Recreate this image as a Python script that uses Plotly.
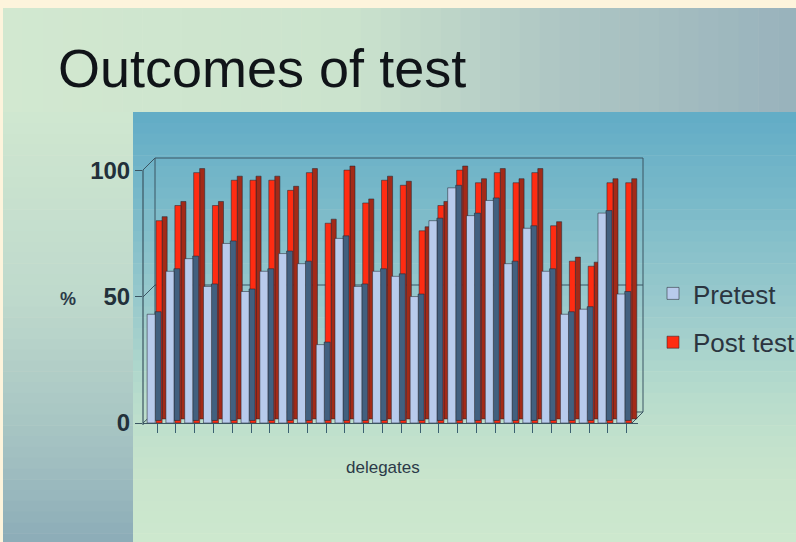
import numpy as np
import plotly.graph_objects as go

# ---------------- data ----------------
delegates = list(range(1, 27))
pretest = [43, 60, 65, 54, 71, 52, 60, 67, 63, 31, 73, 54, 60,
           58, 50, 80, 93, 82, 88, 63, 77, 60, 43, 45, 83, 51]
posttest = [80, 86, 99, 86, 96, 96, 96, 92, 99, 79, 100, 87, 96,
            94, 76, 86, 100, 95, 99, 95, 99, 78, 64, 62, 95, 95]
y_ticks = [0, 50, 100]

# ---------------- layout geometry ----------------
W, H = 796, 542
ML, MR, MT, MB = 143, 158, 160, 119
PW, PH = W - ML - MR, H - MT - MB


def px(x):
    return (x - ML) / PW


def py(y):
    return (H - MB - y) / PH


def hexrgb(h):
    h = h.lstrip('#')
    return np.array([int(h[i:i + 2], 16) for i in (0, 2, 4)], dtype=float)


def interp_color(stops, t):
    pos = [s[0] for s in stops]
    cols = np.array([hexrgb(s[1]) for s in stops])
    c = [np.interp(t, pos, cols[:, k]) for k in range(3)]
    return 'rgb(%d,%d,%d)' % tuple(int(round(v)) for v in c)


shapes = []


def grad_rect(x0, x1, y0, y1, stops, horizontal, n=40):
    for i in range(n):
        if horizontal:
            a = x0 + (x1 - x0) * i / n
            b = x0 + (x1 - x0) * (i + 1) / n + 0.6
            col = interp_color(stops, (a + b) / 2)
            shapes.append(dict(type='rect', xref='paper', yref='paper', layer='below',
                               x0=px(a), x1=px(b), y0=py(y1), y1=py(y0),
                               fillcolor=col, line=dict(width=0)))
        else:
            a = y0 + (y1 - y0) * i / n
            b = y0 + (y1 - y0) * (i + 1) / n + 0.6
            col = interp_color(stops, (a + b) / 2)
            shapes.append(dict(type='rect', xref='paper', yref='paper', layer='below',
                               x0=px(x0), x1=px(x1), y0=py(b), y1=py(a),
                               fillcolor=col, line=dict(width=0)))


# slide background: top band (horizontal gradient)
grad_rect(3, W + 2, 8, 112, [(3, '#d2e8d0'), (350, '#cbe3cd'), (550, '#afc7c4'), (796, '#98b2bc')], True)
# left strip (vertical gradient)
grad_rect(3, 133, 112, H + 2, [(112, '#d0e7d0'), (300, '#bed9cc'), (450, '#a3c1c1'), (542, '#8cacb8')], False)
# chart panel (vertical gradient)
grad_rect(133, W + 2, 112, H + 2, [(112, '#62acc6'), (200, '#79b9c9'), (300, '#98c9cc'),
                                    (400, '#b8dccc'), (470, '#c8e4cc'), (542, '#cde8ce')], False)

frame_col = '#3b5562'


def line(x0, y0, x1, y1, layer='below', w=1):
    shapes.append(dict(type='line', xref='paper', yref='paper', layer=layer,
                       x0=px(x0), y0=py(y0), x1=px(x1), y1=py(y1),
                       line=dict(color=frame_col, width=w)))


# 3D box frame (back wall, floor)
line(155, 158, 643, 158)
line(643, 158, 643, 412)
line(155, 158, 155, 412)
line(155, 412, 643, 412)
line(155, 285, 643, 285)
line(143, 297, 155, 285)
line(143, 170, 155, 158)
line(143, 423, 155, 412)
line(632, 423, 643, 412)
line(143, 170, 143, 425, layer='above', w=1.2)

# ---------------- traces ----------------
edge = dict(color='rgba(35,35,45,0.75)', width=0.7)
fig = go.Figure()
fig.add_trace(go.Bar(x=delegates, y=posttest, base=1.6, offset=0.266, width=0.27,
                     marker=dict(color='#a32a18', line=edge), showlegend=False,
                     hoverinfo='skip'))
fig.add_trace(go.Bar(x=delegates, y=posttest, name='Post test', offset=-0.053, width=0.32,
                     marker=dict(color='#ff2c12', line=edge), legendrank=2,
                     legendgroup='post'))
fig.add_trace(go.Bar(x=delegates, y=pretest, base=1.0, offset=-0.106, width=0.32,
                     marker=dict(color='#42607f', line=edge), showlegend=False,
                     hoverinfo='skip'))
fig.add_trace(go.Bar(x=delegates, y=pretest, name='Pretest', offset=-0.53, width=0.43,
                     marker=dict(color='#b8cbec', line=edge), legendrank=1,
                     legendgroup='pre'))

font_main = 'Liberation Sans, Arial, sans-serif'
fig.update_layout(
    width=W, height=H,
    margin=dict(l=ML, r=MR, t=MT, b=MB, autoexpand=False),
    barmode='overlay',
    paper_bgcolor='#fdf4dc',
    plot_bgcolor='rgba(0,0,0,0)',
    shapes=shapes,
    showlegend=True,
    legend=dict(x=px(653), y=py(270), xanchor='left', yanchor='top',
                bgcolor='rgba(0,0,0,0)', tracegroupgap=12,
                font=dict(family=font_main, size=26, color='#2b3540')),
    xaxis=dict(range=[0.25, 26.6], showgrid=False, zeroline=False,
               showline=True, linecolor=frame_col, linewidth=1.2,
               tickmode='array', tickvals=delegates, ticktext=['' for _ in delegates],
               ticks='outside', ticklen=9, tickcolor='#3a6070', tickwidth=1),
    yaxis=dict(range=[0, 104], showgrid=False, zeroline=False, showline=False,
               tickmode='array', tickvals=y_ticks, ticktext=['<b>%d</b>' % v for v in y_ticks],
               ticks='outside', ticklen=7, tickcolor=frame_col,
               tickfont=dict(family=font_main, size=24, color='#22303a')),
    annotations=[
        dict(text='Outcomes of test', xref='paper', yref='paper', x=px(56), y=py(68),
             xanchor='left', yanchor='middle', showarrow=False,
             font=dict(family=font_main, size=54, color='#101418')),
        dict(text='<b>%</b>', xref='paper', yref='paper', x=px(68), y=py(299),
             xanchor='center', yanchor='middle', showarrow=False,
             font=dict(family=font_main, size=18, color='#2b3a48')),
        dict(text='delegates', xref='paper', yref='paper', x=px(383), y=py(467),
             xanchor='center', yanchor='middle', showarrow=False,
             font=dict(family=font_main, size=17, color='#2b3a48')),
    ],
)

fig.write_html('out.html', config={'displayModeBar': False},
               post_script="document.body.style.margin='0';document.body.style.overflow='hidden';")
